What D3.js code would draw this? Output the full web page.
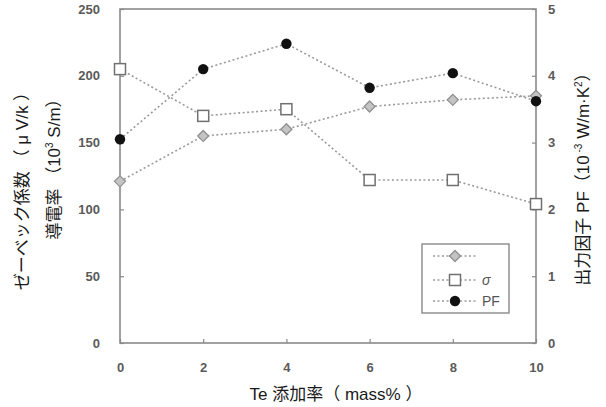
<!DOCTYPE html>
<html>
<head>
<meta charset="utf-8">
<script src="https://cdn.jsdelivr.net/npm/d3@7"></script>
<style>
  html, body { margin: 0; padding: 0; background: #fff; }
  svg { display: block; }
  text { font-family: "Liberation Sans", Arial, "Noto Sans CJK JP", sans-serif; }
</style>
</head>
<body>
<svg id="chart" width="606" height="407"></svg>
<script>
// Te addition rate (mass%)
const teRate = [0, 2, 4, 6, 8, 10];
// Seebeck coefficient (μV/K)
const seebeck = [121, 155, 160, 177, 182, 185];
// Electrical conductivity (10^3 S/m)
const sigma = [205, 170, 175, 122, 122, 104];
// Power factor (10^-3 W/m·K^2)
const pf = [3.05, 4.1, 4.48, 3.82, 4.04, 3.62];

const xTicks = [0, 2, 4, 6, 8, 10];
const leftTicks = [0, 50, 100, 150, 200, 250];
const rightTicks = [0, 1, 2, 3, 4, 5];
const legendLabels = ["", "σ", "PF"];

const svg = d3.select("#chart");
const plot = { left: 120, right: 536, top: 9, bottom: 343 };

const x = d3.scaleLinear().domain([0, 10]).range([plot.left, plot.right]);
const yL = d3.scaleLinear().domain([0, 250]).range([plot.bottom, plot.top]);
const yR = d3.scaleLinear().domain([0, 5]).range([plot.bottom, plot.top]);

const axisColor = "#8a8a8a";
const tickTextColor = "#5a5a5a";

// frame
svg.append("rect")
  .attr("x", plot.left).attr("y", plot.top)
  .attr("width", plot.right - plot.left).attr("height", plot.bottom - plot.top)
  .attr("fill", "none").attr("stroke", axisColor).attr("stroke-width", 1.6);

function styleAxis(g) {
  g.select(".domain").remove();
  g.selectAll(".tick line").attr("stroke", axisColor).attr("stroke-width", 1.2);
  g.selectAll(".tick text")
    .attr("fill", tickTextColor)
    .attr("font-size", 13)
    .attr("font-weight", "bold");
}

const fmt = d3.format("d");

// bottom axis: ticks point inward
svg.append("g")
  .attr("transform", `translate(0,${plot.bottom})`)
  .call(d3.axisBottom(x).tickValues(xTicks).tickFormat(fmt).tickSizeInner(-4).tickSizeOuter(0).tickPadding(20))
  .call(styleAxis);

// left axis
svg.append("g")
  .attr("transform", `translate(${plot.left},0)`)
  .call(d3.axisLeft(yL).tickValues(leftTicks).tickFormat(fmt).tickSizeInner(-4).tickSizeOuter(0).tickPadding(20))
  .call(styleAxis);

// right axis
svg.append("g")
  .attr("transform", `translate(${plot.right},0)`)
  .call(d3.axisRight(yR).tickValues(rightTicks).tickFormat(fmt).tickSizeInner(-4).tickSizeOuter(0).tickPadding(12))
  .call(styleAxis);

const lineColor = "#9a9a9a";
const dash = "2,2.5";

function drawSeries(values, scale) {
  const line = d3.line().x((d, i) => x(teRate[i])).y(d => scale(d));
  svg.append("path")
    .datum(values)
    .attr("d", line)
    .attr("fill", "none")
    .attr("stroke", lineColor)
    .attr("stroke-width", 1.6)
    .attr("stroke-dasharray", dash);
}

drawSeries(sigma, yL);
drawSeries(seebeck, yL);
drawSeries(pf, yR);

function diamond(g, cx, cy) {
  g.append("path")
    .attr("d", `M${cx},${cy - 5.5}L${cx + 5.5},${cy}L${cx},${cy + 5.5}L${cx - 5.5},${cy}Z`)
    .attr("fill", "#c4c4c4").attr("stroke", "#909090").attr("stroke-width", 1.3);
}
function square(g, cx, cy) {
  g.append("rect")
    .attr("x", cx - 5.5).attr("y", cy - 5.5).attr("width", 11).attr("height", 11)
    .attr("fill", "#fff").attr("stroke", "#707070").attr("stroke-width", 1.5);
}
function circle(g, cx, cy) {
  g.append("circle").attr("cx", cx).attr("cy", cy).attr("r", 5.2).attr("fill", "#111");
}

const marks = svg.append("g");
seebeck.forEach((v, i) => diamond(marks, x(teRate[i]), yL(v)));
sigma.forEach((v, i) => square(marks, x(teRate[i]), yL(v)));
pf.forEach((v, i) => circle(marks, x(teRate[i]), yR(v)));

// legend
const lg = svg.append("g");
lg.append("rect")
  .attr("x", 422).attr("y", 244).attr("width", 87).attr("height", 69)
  .attr("fill", "#fff").attr("stroke", "#8a8a8a").attr("stroke-width", 1.4);
const rowsY = [256, 280, 301];
const drawers = [diamond, square, circle];
rowsY.forEach((ry, i) => {
  lg.append("line")
    .attr("x1", 433).attr("x2", 477).attr("y1", ry).attr("y2", ry)
    .attr("stroke", lineColor).attr("stroke-width", 1.6).attr("stroke-dasharray", dash);
  drawers[i](lg, 455, ry);
  lg.append("text")
    .attr("x", 482).attr("y", ry + 5)
    .attr("font-size", 14)
    .attr("fill", "#555")
    .attr("font-style", i === 1 ? "italic" : "normal")
    .text(legendLabels[i]);
});

// axis titles
const titleColor = "#1a1a1a";
svg.append("text")
  .attr("x", 336).attr("y", 400)
  .attr("text-anchor", "middle")
  .attr("font-size", 17)
  .attr("fill", titleColor)
  .text("Te 添加率（ mass% ）");

svg.append("text")
  .attr("transform", "translate(28,187) rotate(-90)")
  .attr("text-anchor", "middle")
  .attr("font-size", 17)
  .attr("fill", titleColor)
  .text("ゼーベック係数 （ μ V/k ）");

const t2 = svg.append("text")
  .attr("transform", "translate(60,165) rotate(-90)")
  .attr("text-anchor", "middle")
  .attr("font-size", 17)
  .attr("fill", titleColor);
t2.append("tspan").text("導電率 （10");
t2.append("tspan").attr("font-size", 10).attr("dy", -7).text("3");
t2.append("tspan").attr("dy", 7).text(" S/m）");

const t3 = svg.append("text")
  .attr("transform", "translate(589,175) rotate(-90)")
  .attr("text-anchor", "middle")
  .attr("font-size", 17)
  .attr("fill", titleColor);
t3.append("tspan").text("出力因子 PF（10");
t3.append("tspan").attr("font-size", 10).attr("dy", -7).text(" -3");
t3.append("tspan").attr("dy", 7).text(" W/m·K");
t3.append("tspan").attr("font-size", 10).attr("dy", -7).text("2");
t3.append("tspan").attr("dy", 7).text("）");
</script>
</body>
</html>
